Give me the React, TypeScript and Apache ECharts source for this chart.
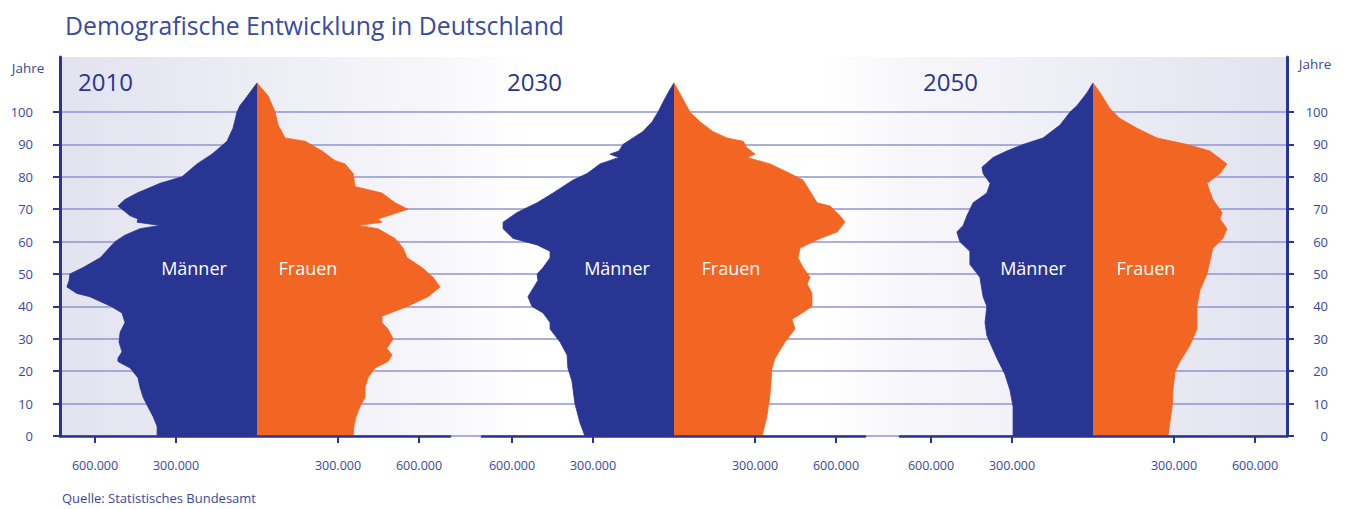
import React, { useEffect, useRef } from 'react';
import * as echarts from 'echarts';

// ---------- data (population per age year, in thousands) ----------
const ageTicks = [0, 10, 20, 30, 40, 50, 60, 70, 80, 90, 100];
const popTicks = [-600, -300, 300, 600];
const years = ['2010', '2030', '2050'];

// [age, thousands]
const men2010 = [[0,370],[3,370],[6,385],[9,404],[12,422],[15,433],[18,441],[21,470],[23,515],[24,515],[26,500],[29,511],[32,507],[35,489],[38,500],[40,540],[42,593],[43,619],[44,667],[46,704],[48,696],[50,693],[52,644],[55,581],[60,526],[62,489],[64,433],[65,359],[66,444],[67,441],[68,470],[71,515],[73,489],[75,444],[78,359],[80,278],[84,222],[87,167],[91,111],[95,89],[100,74],[102,63],[104,44],[109,0]];
const women2010 = [[0,356],[3,359],[6,367],[9,381],[12,400],[15,400],[18,411],[21,437],[23,485],[25,500],[27,481],[30,504],[33,485],[35,463],[37,463],[40,556],[43,633],[46,678],[49,652],[52,611],[55,556],[58,541],[60,522],[61,511],[64,448],[65,374],[66,463],[67,448],[70,559],[72,511],[75,463],[77,363],[81,356],[84,326],[85,289],[88,241],[91,178],[92,104],[96,78],[100,67],[105,41],[109,0]];
const men2030 = [[0,330],[4,348],[10,367],[17,378],[21,393],[25,396],[29,422],[33,459],[35,459],[38,485],[40,526],[43,541],[48,504],[50,507],[52,485],[55,459],[57,459],[59,507],[61,596],[64,633],[66,633],[69,581],[72,507],[75,448],[79,374],[81,322],[84,274],[86,204],[87,237],[88,204],[90,189],[92,152],[94,115],[97,81],[100,59],[103,41],[107,15],[109,0]];
const women2030 = [[0,326],[6,344],[13,356],[21,363],[24,374],[29,411],[33,448],[36,437],[40,511],[44,511],[47,493],[49,504],[52,478],[55,459],[58,467],[61,541],[63,604],[66,633],[68,615],[71,578],[72,530],[79,478],[81,430],[84,356],[86,270],[87,300],[89,270],[91,256],[92,196],[94,144],[97,96],[100,59],[104,33],[109,0]];
const men2050 = [[0,296],[9,296],[14,307],[19,326],[24,356],[31,393],[35,400],[40,393],[43,407],[49,419],[53,456],[57,456],[60,493],[63,504],[65,481],[68,467],[72,444],[75,393],[78,381],[81,407],[83,411],[86,370],[88,319],[90,259],[92,185],[96,122],[100,85],[102,59],[106,22],[109,0]];
const women2050 = [[0,278],[9,293],[14,296],[20,304],[23,322],[28,359],[33,385],[40,385],[45,396],[50,422],[58,444],[61,481],[64,496],[67,470],[69,478],[73,444],[78,422],[81,470],[84,496],[88,433],[90,348],[92,237],[95,163],[98,100],[101,63],[106,26],[109,0]];

const menData = [men2010, men2030, men2050];
const womenData = [women2010, women2030, women2050];

// ---------- layout & style ----------
const AGE_MAX = 117;
const ageCategories = Array.from({ length: AGE_MAX + 1 }, (_, i) => String(i));
const K = 0.27; // px per thousand
const GRID_TOP = 57;
const GRID_BOTTOM = 73;
const layout = [
  { center: 257, left: 60, right: 450, yearX: 78, menX: 194, womenX: 308 },
  { center: 674, left: 482, right: 865, yearX: 507, menX: 617, womenX: 731 },
  { center: 1093, left: 900, right: 1287, yearX: 923, menX: 1033, womenX: 1146 },
];
const FONT = '"Open Sans", "Noto Sans", sans-serif';
const NAVY = '#283593';
const ORANGE = '#f26522';
const LABEL = '#3a479c';
const GRIDLINE = '#8f94d0';

const fmt = (v: number) =>
  String(Math.abs(Math.round(v * 1000))).replace(/\B(?=(\d{3})+(?!\d))/g, '.');

export default function App() {
  const ref = useRef<HTMLDivElement>(null);
  useEffect(() => {
    document.body.style.margin = '0';
    if (!ref.current) return;
    const chart = echarts.init(ref.current, undefined, { renderer: 'svg' });

    const bg = new echarts.graphic.LinearGradient(0, 0, 1, 0, [
      { offset: 0, color: '#e3e3f0' },
      { offset: 0.12, color: '#eaeaf4' },
      { offset: 0.3, color: '#f6f6fa' },
      { offset: 0.38, color: '#ffffff' },
      { offset: 0.62, color: '#ffffff' },
      { offset: 0.7, color: '#f6f6fa' },
      { offset: 0.88, color: '#eaeaf4' },
      { offset: 1, color: '#e3e3f0' },
    ]);

    const grids: any[] = [
      { left: 60, right: 58, top: GRID_TOP, bottom: GRID_BOTTOM, show: true, borderWidth: 0, backgroundColor: bg },
      ...layout.map((p) => ({ left: p.left, width: p.right - p.left, top: GRID_TOP, bottom: GRID_BOTTOM, show: false })),
    ];

    const xAxes: any[] = [
      { gridIndex: 0, type: 'value', min: 0, max: 1, show: false },
      ...layout.map((p, i) => ({
        gridIndex: i + 1,
        type: 'value',
        min: -(p.center - p.left) / K,
        max: (p.right - p.center) / K,
        z: 5,
        axisLine: { show: true, onZero: false, lineStyle: { color: NAVY, width: 2.5 } },
        axisTick: { show: true, customValues: popTicks, length: 7, lineStyle: { color: NAVY, width: 2 } },
        axisLabel: { show: true, customValues: popTicks, formatter: fmt, margin: 23, fontSize: 12.5, color: LABEL, fontFamily: FONT },
        splitLine: { show: false },
      })),
    ];

    const yCommon = {
      gridIndex: 0,
      type: 'value',
      min: 0,
      max: AGE_MAX,
      axisLine: { show: true, lineStyle: { color: NAVY, width: 3 } },
      axisTick: { show: true, customValues: ageTicks, length: 7, lineStyle: { color: NAVY, width: 2 } },
    };
    const yAxes: any[] = [
      {
        ...yCommon,
        position: 'left',
        axisLabel: { customValues: ageTicks, margin: 27, fontSize: 13, color: LABEL, fontFamily: FONT },
        splitLine: { show: true, lineStyle: { color: GRIDLINE, width: 1.6 } },
      },
      {
        ...yCommon,
        position: 'right',
        axisLabel: { customValues: ageTicks, margin: 41, align: 'right', fontSize: 13, color: LABEL, fontFamily: FONT },
        splitLine: { show: false },
      },
      ...layout.map((_, i) => ({
        gridIndex: i + 1,
        type: 'category',
        data: ageCategories,
        boundaryGap: false,
        show: false,
      })),
    ];

    const series: any[] = [];
    layout.forEach((_, i) => {
      series.push({
        type: 'line',
        xAxisIndex: i + 1,
        yAxisIndex: i + 2,
        data: menData[i].map(([a, v]) => [-v, a]),
        symbol: 'none',
        silent: true,
        z: 3,
        lineStyle: { color: NAVY, width: 0.8 },
        areaStyle: { color: NAVY, opacity: 1 },
      });
      series.push({
        type: 'line',
        xAxisIndex: i + 1,
        yAxisIndex: i + 2,
        data: womenData[i].map(([a, v]) => [v, a]),
        symbol: 'none',
        silent: true,
        z: 3,
        lineStyle: { color: ORANGE, width: 0.8 },
        areaStyle: { color: ORANGE, opacity: 1 },
      });
    });

    const texts: any[] = [];
    layout.forEach((p, i) => {
      texts.push({
        type: 'text', x: p.yearX, y: 81, z: 10,
        style: { text: years[i], fontSize: 24, fontFamily: FONT, fill: NAVY, textVerticalAlign: 'middle' },
      });
      texts.push({
        type: 'text', x: p.menX, y: 268, z: 10,
        style: { text: 'Männer', fontSize: 18, fontFamily: FONT, fill: '#ffffff', textAlign: 'center', textVerticalAlign: 'middle' },
      });
      texts.push({
        type: 'text', x: p.womenX, y: 268, z: 10,
        style: { text: 'Frauen', fontSize: 18, fontFamily: FONT, fill: '#ffffff', textAlign: 'center', textVerticalAlign: 'middle' },
      });
    });
    texts.push({
      type: 'text', x: 28, y: 68, z: 10,
      style: { text: 'Jahre', fontSize: 13.5, fontFamily: FONT, fill: LABEL, textAlign: 'center', textVerticalAlign: 'middle' },
    });
    texts.push({
      type: 'text', x: 1315, y: 64, z: 10,
      style: { text: 'Jahre', fontSize: 13.5, fontFamily: FONT, fill: LABEL, textAlign: 'center', textVerticalAlign: 'middle' },
    });
    texts.push({
      type: 'text', x: 62, y: 498, z: 10,
      style: { text: 'Quelle: Statistisches Bundesamt', fontSize: 13, fontFamily: FONT, fill: LABEL, textVerticalAlign: 'middle' },
    });

    chart.setOption({
      animation: false,
      backgroundColor: '#ffffff',
      title: {
        text: 'Demografische Entwicklung in Deutschland',
        left: 60,
        top: 7,
        textStyle: { fontSize: 24.8, fontWeight: 'normal', color: '#3b4aa3', fontFamily: FONT },
      },
      grid: grids,
      xAxis: xAxes,
      yAxis: yAxes,
      series,
      graphic: texts,
    });
    return () => chart.dispose();
  }, []);
  return <div ref={ref} style={{ width: 1345, height: 509 }} />;
}
